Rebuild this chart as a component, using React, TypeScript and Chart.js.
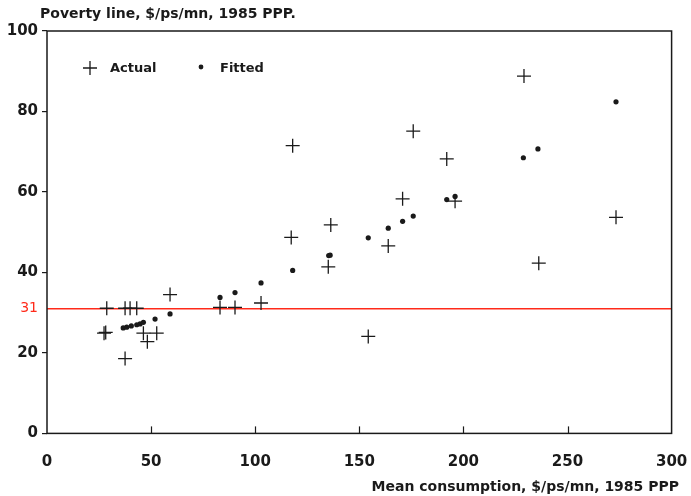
import React, { useEffect, useRef } from "react";
import { Chart, registerables } from "chart.js";

Chart.register(...registerables);

const actualX = [27.4, 28.2, 28.7, 37.5, 39.9, 43.1, 37.5, 46.3, 48.2, 52.7, 59.1, 83.1, 90.3, 102.8, 118.0, 117.3, 136.3, 135.1, 154.3, 163.9, 170.8, 175.9, 192.0, 196.0, 229.1, 236.2, 273.3];
const actualY = [24.9, 25.1, 31.1, 31.1, 31.1, 31.1, 18.6, 24.9, 22.8, 24.9, 34.5, 31.3, 31.3, 32.4, 71.5, 48.7, 51.8, 41.4, 24.1, 46.6, 58.3, 75.1, 68.2, 57.7, 88.8, 42.3, 53.7];

const fittedX = [36.6, 38.3, 40.5, 43.1, 44.7, 46.3, 51.9, 59.1, 83.1, 90.3, 102.8, 118.0, 135.3, 136.0, 154.3, 163.9, 170.8, 175.9, 192.0, 196.0, 228.8, 235.8, 273.3];
const fittedY = [26.2, 26.4, 26.7, 27.0, 27.2, 27.6, 28.4, 29.7, 33.8, 35.0, 37.4, 40.5, 44.2, 44.3, 48.6, 51.0, 52.7, 54.0, 58.1, 58.9, 68.5, 70.7, 82.4];

const povertyLine = 31;
const xMin = 0, xMax = 300, xStep = 50;
const yMin = 0, yMax = 100, yStep = 20;

const titleText = "Poverty line, $/ps/mn, 1985 PPP.";
const xTitleText = "Mean consumption, $/ps/mn, 1985 PPP";
const legendLabels = ["Actual", "Fitted"];

const INK = "#1a1a1a";
const RED = "#ff2a1a";
const FONT = "'DejaVu Sans', 'Liberation Sans', sans-serif";

const decorPlugin = {
  id: "decor",
  afterDraw(chart: any) {
    const { ctx, chartArea: a, scales } = chart;
    const xs = scales.x, ys = scales.y;
    ctx.save();
    // frame
    ctx.strokeStyle = INK;
    ctx.lineWidth = 1.5;
    ctx.strokeRect(a.left, a.top, a.right - a.left, a.bottom - a.top);
    // inward x ticks
    ctx.lineWidth = 1.2;
    for (let v = xMin + xStep; v < xMax; v += xStep) {
      const px = Math.round(xs.getPixelForValue(v)) + 0.5;
      ctx.beginPath();
      ctx.moveTo(px, a.bottom);
      ctx.lineTo(px, a.bottom - 7);
      ctx.stroke();
    }
    // red 31 label
    const py = ys.getPixelForValue(povertyLine);
    ctx.fillStyle = RED;
    ctx.font = `14px ${FONT}`;
    ctx.textAlign = "right";
    ctx.textBaseline = "middle";
    ctx.fillText(String(povertyLine), a.left - 9, py);
    // title
    ctx.fillStyle = INK;
    ctx.font = `bold 14px ${FONT}`;
    ctx.textAlign = "left";
    ctx.textBaseline = "middle";
    ctx.fillText(titleText, 40, 14);
    // x title
    ctx.textAlign = "right";
    ctx.fillText(xTitleText, 679, 487);
    // legend
    const ly = 68;
    ctx.strokeStyle = INK;
    ctx.lineWidth = 1.3;
    ctx.beginPath();
    ctx.moveTo(83, ly);
    ctx.lineTo(97, ly);
    ctx.moveTo(90, ly - 7);
    ctx.lineTo(90, ly + 7);
    ctx.stroke();
    ctx.font = `bold 13px ${FONT}`;
    ctx.textAlign = "left";
    ctx.fillText(legendLabels[0], 110, ly + 1);
    ctx.beginPath();
    ctx.arc(201, ly - 1, 2.4, 0, Math.PI * 2);
    ctx.fillStyle = INK;
    ctx.fill();
    ctx.fillText(legendLabels[1], 220, ly + 1);
    ctx.restore();
  },
};

export default function App() {
  const ref = useRef<HTMLCanvasElement>(null);
  useEffect(() => {
    document.body.style.margin = "0";
    const canvas = ref.current!;
    const chart = new Chart(canvas, {
      type: "scatter",
      data: {
        datasets: [
          {
            label: legendLabels[0],
            data: actualX.map((x, i) => ({ x, y: actualY[i] })),
            pointStyle: "cross",
            pointRadius: 7,
            pointBorderWidth: 1.3,
            borderColor: INK,
            backgroundColor: INK,
          },
          {
            label: legendLabels[1],
            data: fittedX.map((x, i) => ({ x, y: fittedY[i] })),
            pointStyle: "circle",
            pointRadius: 2.6,
            pointBorderWidth: 0,
            borderColor: INK,
            backgroundColor: INK,
          },
          {
            type: "line",
            label: "line",
            data: [
              { x: xMin, y: povertyLine },
              { x: xMax, y: povertyLine },
            ],
            borderColor: RED,
            borderWidth: 1.5,
            pointRadius: 0,
            showLine: true,
          } as any,
        ],
      },
      options: {
        animation: false,
        responsive: false,
        layout: { padding: { top: 31, right: 19.4, left: 0, bottom: 0 } },
        plugins: { legend: { display: false }, tooltip: { enabled: false } },
        scales: {
          x: {
            type: "linear",
            min: xMin,
            max: xMax,
            afterFit: (s: any) => {
              s.height = 62.6;
              s.paddingLeft = 0;
              s.paddingRight = 0;
            },
            ticks: {
              stepSize: xStep,
              padding: 12,
              color: INK,
              font: { family: FONT, size: 15, weight: "bold" },
            },
            grid: { display: false },
            border: { display: false },
          },
          y: {
            type: "linear",
            min: yMin,
            max: yMax,
            afterFit: (s: any) => {
              s.width = 47;
              s.paddingTop = 0;
              s.paddingBottom = 0;
            },
            ticks: {
              stepSize: yStep,
              padding: 4,
              color: INK,
              font: { family: FONT, size: 15, weight: "bold" },
            },
            grid: {
              drawOnChartArea: false,
              tickLength: 5,
              color: INK,
              lineWidth: 1.2,
            },
            border: { display: false },
          },
        },
      },
      plugins: [decorPlugin],
    });
    return () => chart.destroy();
  }, []);
  return (
    <div style={{ width: 691, height: 496, background: "#fff" }}>
      <canvas ref={ref} width={691} height={496} />
    </div>
  );
}
